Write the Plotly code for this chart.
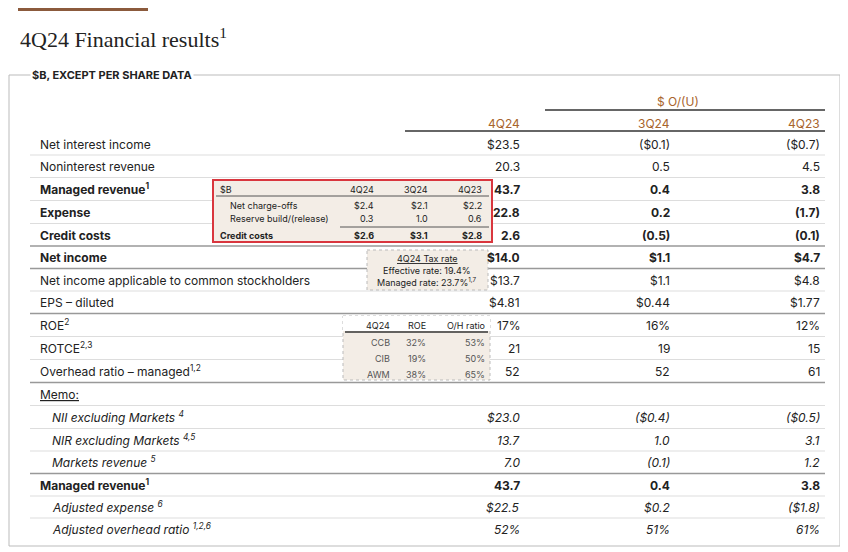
import plotly.graph_objects as go

labels = ["Net interest income","Noninterest revenue","Managed revenue<sup>1</sup>","Expense","Credit costs",
          "Net income","Net income applicable to common stockholders","EPS – diluted","ROE<sup>2</sup>",
          "ROTCE<sup>2,3</sup>","Overhead ratio – managed<sup>1,2</sup>","Memo:",
          "NII excluding Markets <sup>4</sup>","NIR excluding Markets <sup>4,5</sup>","Markets revenue <sup>5</sup>",
          "Managed revenue<sup>1</sup>","Adjusted expense <sup>6</sup>","Adjusted overhead ratio <sup>1,2,6</sup>"]
styles = ["n","n","b","b","b","b","n","n","n","n","n","u","i","i","i","b","i","i"]
col_4q24 = ["$23.5","20.3","43.7","22.8","2.6","$14.0","$13.7","$4.81","17%","21","52","","$23.0","13.7","7.0","43.7","$22.5","52%"]
col_3q24 = ["($0.1)","0.5","0.4","0.2","(0.5)","$1.1","$1.1","$0.44","16%","19","52","","($0.4)","1.0","(0.1)","0.4","$0.2","51%"]
col_4q23 = ["($0.7)","4.5","3.8","(1.7)","(0.1)","$4.7","$4.8","$1.77","12%","15","61","","($0.5)","3.1","1.2","3.8","($1.8)","61%"]
row_y = [144,166,189,212,235,257,280,302,325,348,371,394,417,440,462,485,507,529]

cc_cols = ["$B","4Q24","3Q24","4Q23"]
cc_rows = ["Net charge-offs","Reserve build/(release)","Credit costs"]
cc_vals = [["$2.4","$2.1","$2.2"],["0.3","1.0","0.6"],["$2.6","$3.1","$2.8"]]
seg_cols = ["4Q24","ROE","O/H ratio"]
seg_rows = ["CCB","CIB","AWM"]
seg_roe = ["32%","19%","38%"]
seg_oh = ["53%","50%","65%"]

F = "Inter, Lato, sans-serif"
TXT = "#222"
ORANGE = "#a8642c"
fig = go.Figure()
ann = []
shapes = []
def T(x, y, s, size=12, anchor="left", color=TXT, font=F):
    ann.append(dict(x=x, y=y, text=s, showarrow=False, xanchor=anchor, yanchor="middle",
                    font=dict(size=size, color=color, family=font)))
def L(x0, y0, x1, y1, color="#ccc", w=1, dash="solid"):
    shapes.append(dict(type="line", x0=x0, y0=y0, x1=x1, y1=y1, line=dict(color=color, width=w, dash=dash)))

shapes.append(dict(type="rect", x0=18, y0=8, x1=148, y1=11, fillcolor="#8b5a3c", line=dict(width=0)))
T(18, 38, "4Q24 Financial results<sup>1</sup>", 22, font="Liberation Serif, serif")
shapes.append(dict(type="rect", x0=9, y0=75, x1=840, y1=546, line=dict(color="#bbb", width=1)))
ann.append(dict(x=30, y=75, text="<b>$B, EXCEPT PER SHARE DATA</b>", showarrow=False, xanchor="left",
                yanchor="middle", bgcolor="white", font=dict(size=11, color=TXT, family=F)))
T(678, 101, "$ O/(U)", 12, "center", ORANGE)
L(545, 110, 825, 110, "#333", 1.5)
for x, h in zip([522, 672, 822], ["4Q24", "3Q24", "4Q23"]):
    T(x, 123, h, 12, "right", ORANGE)
L(405, 131, 825, 131, "#333", 1.5)

for i, (lab, st, y) in enumerate(zip(labels, styles, row_y)):
    s = lab
    if st == "b": s = "<b>" + lab + "</b>"
    elif st == "i": s = "<i>" + lab + "</i>"
    elif st == "u": s = "<u>" + lab + "</u>"
    x = 50 if st == "i" else 38
    T(x, y, s, 12)
    for xv, col in zip([522, 672, 822], [col_4q24, col_3q24, col_4q23]):
        v = col[i]
        if st == "b": v = "<b>" + v + "</b>"
        elif st == "i": v = "<i>" + v + "</i>"
        T(xv, y, v, 12, "right")
    if i < len(row_y) - 1:
        yl = (y + row_y[i + 1]) / 2
        bold = i in (4, 5, 7, 10, 14)
        L(30, yl, 825, yl, "#999" if bold else "#ddd", 1.5 if bold else 1)

# credit cost inset
shapes.append(dict(type="rect", x0=213, y0=180, x1=492, y1=242, fillcolor="#f3ede6",
                   line=dict(color="#d9363e", width=2)))
cx = [218, 376, 430, 484]
T(cx[0], 189, cc_cols[0], 9)
for x, c in zip(cx[1:], cc_cols[1:]):
    T(x, 189, c, 9, "right")
L(216, 196, 489, 196, "#555", 1)
for j, (r, vals) in enumerate(zip(cc_rows, cc_vals)):
    y = [205, 218, 235][j]
    T(cx[0] + (10 if j < 2 else 0), y, "<b>" + r + "</b>" if j == 2 else r, 9)
    for x, v in zip(cx[1:], vals):
        T(x, y, "<b>" + v + "</b>" if j == 2 else v, 9, "right")
L(340, 227, 489, 227, "#555", 1)

# tax inset
shapes.append(dict(type="rect", x0=367, y0=250, x1=488, y1=290, fillcolor="#f3ede6",
                   line=dict(color="#bbb", width=1, dash="dot")))
T(427, 258, "<u>4Q24 Tax rate</u>", 9, "center")
T(427, 270, "Effective rate: 19.4%", 9, "center")
T(427, 282, "Managed rate: 23.7%<sup>1,7</sup>", 9, "center")

# segment inset
shapes.append(dict(type="rect", x0=343, y0=316, x1=490, y1=380, fillcolor="#f3ede6",
                   line=dict(color="#bbb", width=1, dash="dot")))
shapes.append(dict(type="rect", x0=343, y0=316, x1=490, y1=331, fillcolor="white", line=dict(width=0)))
sx = [392, 428, 487]
for x, c in zip(sx, seg_cols):
    T(x, 325, c, 9, "right")
L(345, 332, 488, 332, "#333", 1.5)
for j, r in enumerate(seg_rows):
    y = 342 + 16 * j
    T(sx[0], y, r, 9, "right", "#555")
    T(sx[1], y, seg_roe[j], 9, "right", "#555")
    T(sx[2], y, seg_oh[j], 9, "right", "#555")

fig.update_layout(width=840, height=544, margin=dict(l=0, r=0, t=0, b=0), plot_bgcolor="white",
                  paper_bgcolor="white", annotations=ann, shapes=shapes, showlegend=False,
                  xaxis=dict(range=[8, 848], visible=False, fixedrange=True),
                  yaxis=dict(range=[552, 8], visible=False, fixedrange=True))
fig.write_html("out.html")
